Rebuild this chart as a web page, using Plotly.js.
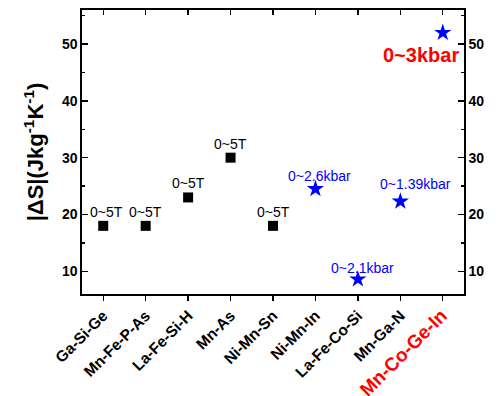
<!DOCTYPE html>
<html>
<head>
<meta charset="utf-8">
<script src="https://cdn.plot.ly/plotly-3.0.1.min.js"></script>
<style>html,body{margin:0;padding:0;background:#fff;}#chart{width:500px;height:396px;}</style>
</head>
<body>
<div id="chart"></div>
<script>
// Categories (x axis)
const categories = ["Ga-Si-Ge","Mn-Fe-P-As","La-Fe-Si-H","Mn-As","Ni-Mn-Sn","Ni-Mn-In","La-Fe-Co-Si","Mn-Ga-N","Mn-Co-Ge-In"];
// Magnetic-field driven (squares)
const fieldIdx = [0,1,2,3,4];
const fieldValues = [18,18,23,30,18];
const fieldLabels = ["0~5T","0~5T","0~5T","0~5T","0~5T"];
// Pressure driven (stars)
const pressIdx = [5,6,7,8];
const pressValues = [24.5,8.6,22.3,52];
const pressLabels = ["0~2.6kbar","0~2.1kbar","0~1.39kbar","0~3kbar"];
const yTickVals = [10,20,30,40,50];

const FONT = "Liberation Sans, Arial, sans-serif";

const tickText = categories.map((c,i)=> i===categories.length-1
  ? '<span style="color:#ff0000;font-size:19px">'+c+'</span>' : c);

const traces = [
  {x: fieldIdx, y: fieldValues, type:'scatter', mode:'markers',
   marker:{symbol:'square', size:10, color:'#000000'}, xaxis:'x', yaxis:'y', showlegend:false, hoverinfo:'none'},
  {x: pressIdx, y: pressValues, type:'scatter', mode:'markers',
   marker:{symbol:'star', size:13, color:'#0000ff', line:{width:0}}, xaxis:'x', yaxis:'y', showlegend:false, hoverinfo:'none'}
];

const fieldShift = [[3,14],[0,14],[0,14],[0,14],[0,14]];
const pressShift = [[4,13],[5,11],[15,17],[-22,-22]];
const annotations = [];
fieldIdx.forEach((xi,i)=>annotations.push({x:xi, y:fieldValues[i], xref:'x', yref:'y', text:fieldLabels[i],
  showarrow:false, xshift:fieldShift[i][0], yshift:fieldShift[i][1], font:{family:FONT, size:14, color:'#000000'}}));
pressIdx.forEach((xi,i)=>{
  const last = i===pressIdx.length-1;
  annotations.push({x:xi, y:pressValues[i], xref:'x', yref:'y', text:pressLabels[i],
    showarrow:false, xshift:pressShift[i][0], yshift:pressShift[i][1],
    font: last ? {family:FONT, size:20, color:'#ff0000', weight:'bold'} : {family:FONT, size:14, color:'#0000ff'}});
});

const yr = [6,56];
const xr = [-0.5,8.5];
const layout = {
  width:500, height:396,
  margin:{l:82, r:36, t:10, b:102},
  paper_bgcolor:'#ffffff', plot_bgcolor:'#ffffff',
  font:{family:FONT, color:'#000000'},
  xaxis:{range:xr, tickmode:'array', tickvals:categories.map((c,i)=>i), ticktext:tickText,
    tickangle:-45, ticks:'outside', ticklen:5, tickwidth:1.3, tickcolor:'#000',
    showline:true, linecolor:'#000', linewidth:1.6, showgrid:false, zeroline:false,
    tickfont:{family:FONT, size:15.5, color:'#000', weight:'bold'}},
  xaxis2:{range:xr, overlaying:'x', side:'top', tickmode:'array', tickvals:categories.map((c,i)=>i),
    ticks:'inside', ticklen:5, tickwidth:1.3, tickcolor:'#000', showticklabels:false,
    showline:true, linecolor:'#000', linewidth:1.6, showgrid:false, zeroline:false},
  yaxis:{range:yr, tickmode:'array', tickvals:yTickVals, ticks:'inside', ticklen:6, tickwidth:1.3, tickcolor:'#000',
    minor:{tickmode:'linear', tick0:5, dtick:5, ticks:'inside', ticklen:3, tickwidth:1.3, tickcolor:'#000', showgrid:false},
    showline:true, linecolor:'#000', linewidth:1.6, showgrid:false, zeroline:false,
    tickfont:{family:FONT, size:14, color:'#000', weight:'bold'},
    title:{text:'|ΔS|(Jkg<sup>-1</sup>K<sup>-1</sup>)', standoff:12, font:{family:FONT, size:22, color:'#000', weight:'bold'}}},
  yaxis2:{range:yr, overlaying:'y', side:'right', tickmode:'array', tickvals:yTickVals, ticks:'inside', ticklen:6, tickwidth:1.3, tickcolor:'#000',
    minor:{tickmode:'linear', tick0:5, dtick:5, ticks:'inside', ticklen:3, tickwidth:1.3, tickcolor:'#000', showgrid:false},
    showline:true, linecolor:'#000', linewidth:1.6, showgrid:false, zeroline:false,
    tickfont:{family:FONT, size:14, color:'#000', weight:'bold'}},
  annotations: annotations,
  showlegend:false
};
// invisible trace so the secondary (mirror) axes are drawn
traces.push({x:[0], y:[null], xaxis:'x2', yaxis:'y2', type:'scatter', mode:'markers', showlegend:false, hoverinfo:'none'});
Plotly.newPlot('chart', traces, layout, {staticPlot:true, displayModeBar:false});
</script>
</body>
</html>
